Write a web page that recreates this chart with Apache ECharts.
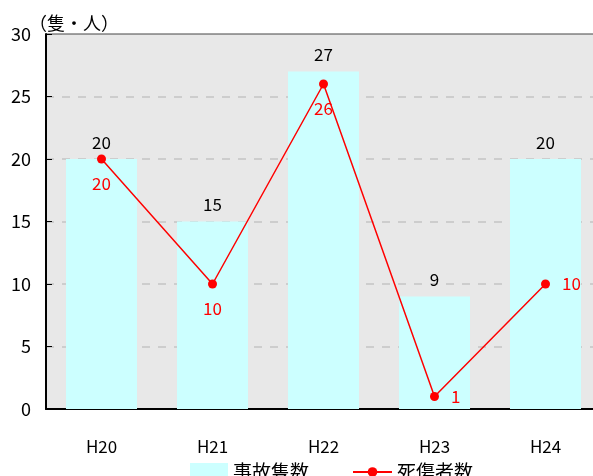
<!DOCTYPE html>
<html>
<head>
<meta charset="utf-8">
<script src="https://cdn.jsdelivr.net/npm/echarts@6/dist/echarts.min.js"></script>
<style>
html,body{margin:0;padding:0;background:#fff;}
#chart{width:593px;height:476px;}
</style>
</head>
<body>
<div id="chart"></div>
<script>
// Annual figures: vessel accidents and casualties
const years = ['H20', 'H21', 'H22', 'H23', 'H24'];
const accidents = [20, 15, 27, 9, 20];
const casualties = [20, 10, 26, 1, 10];
const casualtyLabelPos = ['bottom', 'bottom', 'bottom', 'right', 'right'];
const yTicks = [0, 5, 10, 15, 20, 25, 30];

const font = '"Noto Sans CJK JP", "DejaVu Sans", sans-serif';
const chart = echarts.init(document.getElementById('chart'));

const legendText = { fontSize: 19, lineHeight: 20, color: '#000', fontFamily: font };

chart.setOption({
  animation: false,
  textStyle: { fontFamily: font },
  title: {
    text: '（隻・人）',
    left: 24, top: 9,
    textStyle: { fontSize: 18, fontWeight: 'normal', color: '#000', fontFamily: font }
  },
  legend: [
    {
      top: 462, left: 190, padding: 0,
      itemWidth: 38, itemHeight: 18,
      textStyle: legendText,
      data: [{ name: '事故隻数', icon: 'rect', itemStyle: { color: '#CCFFFF' } }]
    },
    {
      top: 462, left: 352, padding: 0,
      itemWidth: 39, itemHeight: 12,
      textStyle: legendText,
      data: [{ name: '死傷者数' }]
    }
  ],
  grid: {
    left: 46, width: 555, top: 34, height: 375,
    outerBoundsMode: 'none',
    show: true,
    backgroundColor: '#E8E8E8',
    borderWidth: 1,
    borderColor: '#444'
  },
  xAxis: {
    type: 'category',
    data: years,
    axisLine: { lineStyle: { color: '#000', width: 2 } },
    axisTick: { inside: true, length: 6, lineStyle: { color: '#000', width: 1.5 } },
    axisLabel: { fontSize: 17, color: '#000', margin: 29, fontFamily: font }
  },
  yAxis: {
    type: 'value',
    min: yTicks[0], max: yTicks[yTicks.length - 1], interval: 5,
    axisLine: { show: true, lineStyle: { color: '#000', width: 2 } },
    axisTick: { show: true, inside: true, length: 6, lineStyle: { color: '#000' } },
    axisLabel: { fontSize: 18, color: '#000', margin: 15, fontFamily: font },
    splitLine: {
      showMinLine: false, showMaxLine: false,
      lineStyle: { color: '#C4C4C4', width: 1.5, type: [8, 8] }
    }
  },
  series: [
    {
      name: '事故隻数',
      type: 'bar',
      data: accidents,
      barWidth: '64%',
      itemStyle: { color: '#CCFFFF' },
      label: {
        show: true, position: 'top', distance: 8,
        fontSize: 17, color: '#000', fontFamily: font
      }
    },
    {
      name: '死傷者数',
      type: 'line',
      data: casualties.map((v, i) => ({
        value: v,
        label: { position: casualtyLabelPos[i] }
      })),
      symbol: 'circle',
      symbolSize: 9,
      lineStyle: { color: '#FF0000', width: 1.5 },
      itemStyle: { color: '#FF0000' },
      label: {
        show: true, distance: 12,
        fontSize: 17, color: '#FF0000', fontFamily: font
      }
    }
  ]
});
</script>
</body>
</html>
